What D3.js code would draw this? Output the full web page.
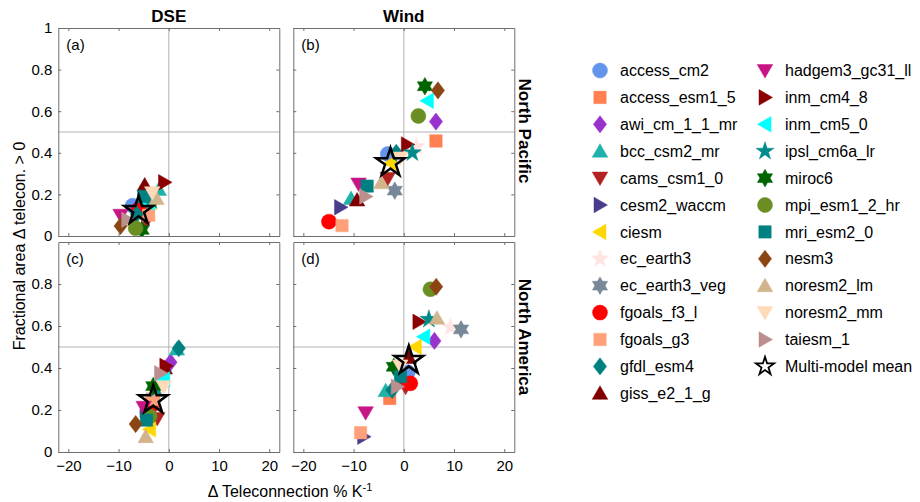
<!DOCTYPE html>
<html><head><meta charset="utf-8">
<script src="https://cdn.jsdelivr.net/npm/d3@7"></script>
<style>body{margin:0;background:#fff} text{font-family:"Liberation Sans",Arial,Helvetica,sans-serif;fill:#000}</style>
</head><body><svg id="c" width="920" height="502"></svg>
<script>
const models = ["access_cm2","access_esm1_5","awi_cm_1_1_mr","bcc_csm2_mr","cams_csm1_0","cesm2_waccm","ciesm","ec_earth3","ec_earth3_veg","fgoals_f3_l","fgoals_g3","gfdl_esm4","giss_e2_1_g","hadgem3_gc31_ll","inm_cm4_8","inm_cm5_0","ipsl_cm6a_lr","miroc6","mpi_esm1_2_hr","mri_esm2_0","nesm3","noresm2_lm","noresm2_mm","taiesm_1"];
const colors = ["#6495ED","#FF7F50","#9932CC","#20B2AA","#B22222","#483D8B","#FFD700","#FFE4E1","#778899","#FF0000","#FFA07A","#008080","#800000","#C71585","#8B0000","#00FFFF","#008B8B","#006400","#6B8E23","#008080","#8B4513","#D2B48C","#FFDAB9","#BC8F8F"];
const shapes = ["o","s","d","^","v",">","<","p","h","o","s","d","^","v",">","<","p","h","o","s","d","^","v",">"];
const meanLabel = "Multi-model mean";

// (a) DSE, North Pacific
const dseNPx = [-7.2,-4.3,-6.5,-2.0,-4.5,-5.0,-3.6,-4.0,-5.5,-6.0,-4.0,-6.4,-4.8,-9.6,-0.85,-4.0,-3.5,-5.4,-6.6,-5.0,-9.6,-2.45,-3.3,-8.2];
const dseNPy = [0.146,0.115,0.13,0.224,0.07,0.14,0.165,0.15,0.12,0.125,0.10,0.105,0.245,0.10,0.258,0.16,0.17,0.029,0.037,0.19,0.048,0.18,0.208,0.078];
const dseNPmean = [-6.0,0.122];
// (b) Wind, North Pacific
const windNPx = [-3.2,6.4,6.4,-10.5,-3.2,-12.6,-2.6,2.5,-1.8,-14.9,-12.3,-1.5,-9.3,-9.0,0.7,4.7,1.7,4.2,2.9,-7.3,6.8,-4.5,-0.7,-7.6];
const windNPy = [0.394,0.457,0.55,0.18,0.277,0.138,0.35,0.43,0.218,0.069,0.05,0.40,0.173,0.25,0.44,0.65,0.40,0.72,0.577,0.24,0.70,0.256,0.375,0.19];
const windNPmean = [-2.65,0.352];
// (c) DSE, North America
const dseNAx = [-4.3,-3.5,0.35,1.6,-2.3,-4.5,-3.8,-2.5,-3.0,-3.5,-3.1,2.0,-0.8,-5.0,-0.6,-1.0,-2.5,-3.1,-3.8,-4.45,-6.6,-4.6,-1.0,-1.65];
const dseNAy = [0.19,0.23,0.427,0.49,0.16,0.2,0.108,0.28,0.26,0.22,0.25,0.494,0.40,0.213,0.41,0.346,0.30,0.314,0.17,0.152,0.133,0.073,0.311,0.375];
const dseNAmean = [-3.1,0.248];
// (d) Wind, North America
const windNAx = [0.8,-2.8,6.1,-3.6,0.35,-8.0,2.3,9.3,11.4,1.3,-8.6,-2.3,1.0,-7.6,3.0,4.0,5.0,-2.0,5.3,-0.66,6.45,6.6,-0.7,-1.3];
const windNAy = [0.38,0.255,0.529,0.292,0.308,0.073,0.50,0.594,0.584,0.327,0.092,0.295,0.45,0.187,0.62,0.549,0.632,0.406,0.775,0.359,0.787,0.637,0.41,0.311];
const windNAmean = [1.0,0.435];

const xTicks = [-20,-10,0,10,20];
const yTicks = [0,0.2,0.4,0.6,0.8,1];
const colTitles = ["DSE","Wind"];
const rowTitles = ["North Pacific","North America"];
const panelLetters = ["(a)","(b)","(c)","(d)"];

const svg = d3.select("#c");
const FONT = '"Liberation Sans",Arial,Helvetica,sans-serif';

function starPts(n, R, r, rot) {
  const p = [];
  for (let i = 0; i < 2*n; i++) {
    const a = rot + i*Math.PI/n;
    const rr = i%2===0 ? R : r;
    p.push([rr*Math.cos(a), rr*Math.sin(a)]);
  }
  return p;
}
function polyPath(pts){ return "M"+pts.map(p=>p[0].toFixed(2)+","+p[1].toFixed(2)).join("L")+"Z"; }
function shapePath(t, k) {
  const up = -Math.PI/2;
  switch (t) {
    case "o": { const r=7.5*k; return `M${r},0A${r},${r} 0 1,1 ${-r},0A${r},${r} 0 1,1 ${r},0Z`; }
    case "s": { const h=6.2*k; return polyPath([[-h,-h],[h,-h],[h,h],[-h,h]]); }
    case "d": { const w=6.6*k, h=8.6*k; return polyPath([[0,-h],[w,0],[0,h],[-w,0]]); }
    case "^": { const R=9*k; return polyPath([0,1,2].map(i=>[R*Math.cos(up+i*2*Math.PI/3), R*Math.sin(up+i*2*Math.PI/3)+1.5*k])); }
    case "v": { const R=9*k; return polyPath([0,1,2].map(i=>[R*Math.cos(-up+i*2*Math.PI/3), R*Math.sin(-up+i*2*Math.PI/3)-1.5*k])); }
    case ">": { const R=9*k; return polyPath([0,1,2].map(i=>[R*Math.cos(i*2*Math.PI/3)-1.5*k, R*Math.sin(i*2*Math.PI/3)])); }
    case "<": { const R=9*k; return polyPath([0,1,2].map(i=>[R*Math.cos(Math.PI+i*2*Math.PI/3)+1.5*k, R*Math.sin(Math.PI+i*2*Math.PI/3)])); }
    case "p": { const R=9.5*k; return polyPath(starPts(5, R, R*0.382, up)); }
    case "h": { const R=8.8*k; return polyPath(starPts(6, R, R/Math.sqrt(3), up)); }
  }
}

const xScales = [
  d3.scaleLinear().domain([-22,22]).range([58.3,279.3]),
  d3.scaleLinear().domain([-22,22]).range([293.3,514.3])
];
const yScales = [
  d3.scaleLinear().domain([0,1]).range([236,28]),
  d3.scaleLinear().domain([0,1]).range([452,242])
];

const panels = [
  {c:0,r:0,xs:dseNPx,ys:dseNPy,m:dseNPmean},
  {c:1,r:0,xs:windNPx,ys:windNPy,m:windNPmean},
  {c:0,r:1,xs:dseNAx,ys:dseNAy,m:dseNAmean},
  {c:1,r:1,xs:windNAx,ys:windNAy,m:windNAmean}
];

panels.forEach((p, pi) => {
  const x = xScales[p.c], y = yScales[p.r];
  const [x0,x1] = x.range(), [y0,y1] = y.range();
  const g = svg.append("g");
  const clipId = "clip"+pi;
  svg.append("clipPath").attr("id",clipId).append("rect")
    .attr("x",x0).attr("y",y1).attr("width",x1-x0).attr("height",y0-y1);
  g.append("line").attr("x1",x(0)).attr("x2",x(0)).attr("y1",y0).attr("y2",y1).attr("stroke","#b3b3b3").attr("stroke-width",1);
  g.append("line").attr("x1",x0).attr("x2",x1).attr("y1",y(0.5)).attr("y2",y(0.5)).attr("stroke","#b3b3b3").attr("stroke-width",1);
  const showX = p.r===1, showY = p.c===0;
  const yT = p.r===0 ? yTicks : yTicks.slice(0,5);
  const bottom = d3.axisBottom(x).tickValues(xTicks).tickSizeInner(-3).tickSizeOuter(0).tickPadding(8).tickFormat(showX? d3.format("d") : "");
  const top = d3.axisTop(x).tickValues(xTicks).tickSizeInner(-3).tickSizeOuter(0).tickFormat("");
  const left = d3.axisLeft(y).tickValues(yT).tickSizeInner(-3).tickSizeOuter(0).tickPadding(6).tickFormat(showY ? (d => d===0?"0":d===1?"1":d3.format(".1f")(d)) : "");
  const right = d3.axisRight(y).tickValues(yT).tickSizeInner(-3).tickSizeOuter(0).tickFormat("");
  [[bottom,`translate(0,${y0})`],[top,`translate(0,${y1})`],[left,`translate(${x0},0)`],[right,`translate(${x1},0)`]].forEach(([ax,tr])=>{
    const a = g.append("g").attr("transform",tr).call(ax);
    a.select(".domain").attr("stroke","#6e6e6e").attr("stroke-width",1);
    a.selectAll(".tick line").attr("stroke","#6e6e6e");
    a.selectAll(".tick text").attr("font-size","15px").attr("font-family",FONT).attr("fill","#000");
  });
  const mg = g.append("g").attr("clip-path",`url(#${clipId})`);
  models.forEach((name,i)=>{
    mg.append("path").attr("d",shapePath(shapes[i],1))
      .attr("transform",`translate(${x(p.xs[i])},${y(p.ys[i])})`)
      .attr("fill",colors[i]).attr("stroke",colors[i]).attr("stroke-width",0.5);
  });
  mg.append("path").attr("d",polyPath(starPts(5,15,15*0.382,-Math.PI/2)))
    .attr("transform",`translate(${x(p.m[0])},${y(p.m[1])})`)
    .attr("fill","none").attr("stroke","#000").attr("stroke-width",2.5).attr("stroke-linejoin","miter");
  g.append("text").attr("x",x0+8).attr("y",y1+22).attr("font-size","15px").text(panelLetters[pi]);
});

colTitles.forEach((t,i)=>{
  svg.append("text").attr("x",xScales[i](0)).attr("y",22).attr("text-anchor","middle")
    .attr("font-size","17px").attr("font-weight","bold").text(t);
});
rowTitles.forEach((t,i)=>{
  const cy = i===0 ? 131 : 337;
  svg.append("text").attr("transform",`translate(525,${cy}) rotate(90)`).attr("text-anchor","middle")
    .attr("dy","0.35em").attr("font-size","17px").attr("font-weight","bold").text(t);
});
svg.append("text").attr("transform","translate(19,246) rotate(-90)").attr("text-anchor","middle")
  .attr("dy","0.35em").attr("font-size","16px").text("Fractional area \u0394 telecon. > 0");
const xl = svg.append("text").attr("x",290).attr("y",497).attr("text-anchor","middle").attr("font-size","16px");
xl.append("tspan").text("\u0394 Teleconnection % K");
xl.append("tspan").attr("dy","-6").attr("font-size","11px").text("-1");

const leg = svg.append("g");
const rowH = 26.9;
const entries = models.map((m,i)=>({name:m,shape:shapes[i],color:colors[i]}));
entries.push({name:meanLabel, shape:"mean"});
entries.forEach((e,i)=>{
  const col = i < 13 ? 0 : 1;
  const row = col===0 ? i : i-13;
  const mx = col===0 ? 600 : 765, tx = col===0 ? 620 : 785;
  const cy = 70.5 + row*rowH;
  if (e.shape==="mean") {
    leg.append("path").attr("d",polyPath(starPts(5,9.5,9.5*0.382,-Math.PI/2)))
      .attr("transform",`translate(${mx},${cy})`).attr("fill","#fff").attr("stroke","#000").attr("stroke-width",1.8);
  } else {
    leg.append("path").attr("d",shapePath(e.shape,1)).attr("transform",`translate(${mx},${cy})`)
      .attr("fill",e.color).attr("stroke",e.color).attr("stroke-width",0.5);
  }
  leg.append("text").attr("x",tx).attr("y",cy).attr("dy","0.35em").attr("font-size","16px").text(e.name);
});
</script></body></html>
